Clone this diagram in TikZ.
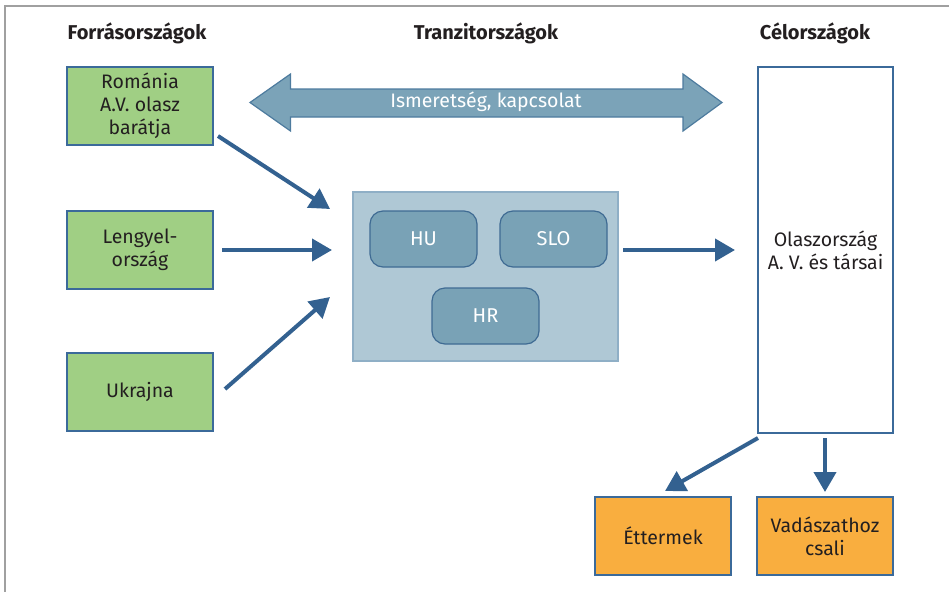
\documentclass[tikz,border=0pt]{standalone}
\usepackage{fontspec}
\setmainfont{Fira Sans}
\usetikzlibrary{arrows.meta}
\definecolor{gfill}{HTML}{A0CF84}
\definecolor{ofill}{HTML}{F9AE3F}
\definecolor{bline}{HTML}{3B6A9A}
\definecolor{arr}{HTML}{336190}
\definecolor{tfill}{HTML}{AFC8D5}
\definecolor{tline}{HTML}{8FAFC6}
\definecolor{rfill}{HTML}{79A2B6}
\definecolor{rline}{HTML}{3F6B93}
\definecolor{dafill}{HTML}{7BA3B8}
\definecolor{daline}{HTML}{4D7B9E}
\definecolor{frame}{HTML}{A0A0A0}
\definecolor{txt}{HTML}{231F20}
\tikzset{
  head/.style={font=\bfseries\fontsize{20}{22}\selectfont, text=txt},
  src/.style={draw=bline, line width=1.5pt, fill=gfill, minimum width=146pt, minimum height=78pt, align=center, text=txt, font=\fontsize{19.5}{23}\selectfont, inner sep=0pt},
  dst/.style={draw=bline, line width=1.5pt, fill=ofill, minimum width=136pt, minimum height=78pt, align=center, text=txt, font=\fontsize{19.5}{23}\selectfont, inner sep=0pt},
  country/.style={draw=rline, line width=1.2pt, fill=rfill, rounded corners=13pt, minimum width=107pt, minimum height=56pt, text=white, font=\fontsize{20}{22}\selectfont, inner sep=0pt},
  flow/.style={draw=arr, line width=4pt, -{Triangle[length=20pt,width=22pt]}},
}
\begin{document}
\begin{tikzpicture}[x=1pt,y=-1pt]
\useasboundingbox (0,0) rectangle (949,592);
% frame
\draw[frame, line width=1.5pt] (5,592) -- (5,6) -- (949,6);
% headings
\node[head] (h1) at (137,33) {Forrásországok};
\node[head] (h2) at (486,33) {Tranzitországok};
\node[head] (h3) at (815,33) {Célországok};
% source boxes
\node[src] (ro) at (140,106) {Románia\\A.V. olasz\\barátja};
\node[src] (pl) at (140,250) {Lengyel-\\ország};
\node[src] (ua) at (140,392) {Ukrajna};
% transit
\node[draw=tline, line width=1.2pt, fill=tfill, minimum width=265pt, minimum height=169pt, inner sep=0pt] (tr) at (485.5,276.5) {};
\node[country] (hu) at (423.5,239) {HU};
\node[country] (slo) at (553.5,239) {SLO};
\node[country] (hr) at (485.5,316) {HR};
% destination
\node[draw=bline, line width=1.5pt, fill=white, minimum width=135pt, minimum height=366pt, align=center, text=txt, font=\fontsize{19.5}{23}\selectfont, inner sep=0pt] (it) at (825.5,250) {Olaszország\\A. V. és társai};
\node[dst] (et) at (663,536) {Éttermek};
\node[dst] (va) at (825,536) {Vadászathoz\\csali};
% double arrow
\draw[draw=daline, line width=1.2pt, fill=dafill]
  (250,102.5) -- (290.5,74) -- (290.5,89) -- (683,89) -- (683,74) -- (722,102.5)
  -- (683,131) -- (683,117) -- (290.5,117) -- (290.5,131) -- cycle;
\node[text=white, font=\fontsize{19.5}{22}\selectfont] (link) at (486,102) {Ismeretség, kapcsolat};
% arrow end coordinates
\coordinate (a1s) at (218,136); \coordinate (a1e) at (330,209);
\coordinate (a2s) at (222,250); \coordinate (a2e) at (332,250);
\coordinate (a3s) at (225,389); \coordinate (a3e) at (330,297);
\coordinate (a4s) at (623,250); \coordinate (a4e) at (735,250);
\coordinate (a5s) at (758,438); \coordinate (a5e) at (665,491);
\coordinate (a6s) at (825,438); \coordinate (a6e) at (825,492);
\draw[flow] (a1s) -- (a1e);
\draw[flow] (a2s) -- (a2e);
\draw[flow] (a3s) -- (a3e);
\draw[flow] (a4s) -- (a4e);
\draw[flow] (a5s) -- (a5e);
\draw[flow] (a6s) -- (a6e);
\end{tikzpicture}
\end{document}
